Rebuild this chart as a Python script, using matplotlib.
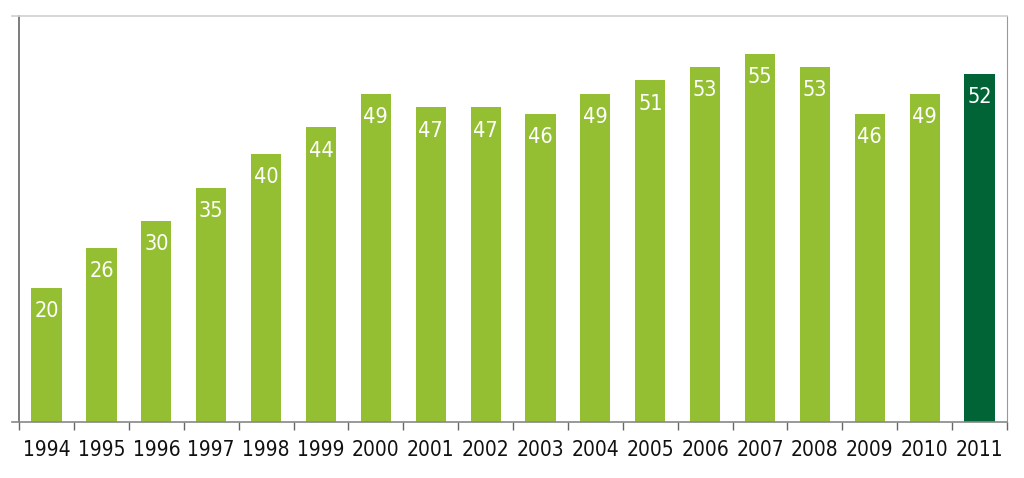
import matplotlib

matplotlib.use("Agg")
import matplotlib.pyplot as plt
import numpy as np

years = ["1994", "1995", "1996", "1997", "1998", "1999", "2000", "2001", "2002",
         "2003", "2004", "2005", "2006", "2007", "2008", "2009", "2010", "2011"]
values = [20, 26, 30, 35, 40, 44, 49, 47, 47, 46, 49, 51, 53, 55, 53, 46, 49, 52]

LIGHT = "#95bf33"
DARK = "#006437"
FONT = ["DejaVu Sans"]

fig = plt.figure(figsize=(10.24, 4.78), dpi=100)
ax = fig.add_axes([12 / 1024, 56 / 478, (1007 - 12) / 1024, (422 - 16) / 478])

x = np.arange(len(years))
colors = [LIGHT] * (len(years) - 1) + [DARK]
ax.bar(x, values, width=0.55, color=colors, zorder=2)

# white value labels just inside the top of each bar
for xi, v in zip(x, values):
    ax.text(xi, v - 3.5, str(v), ha="center", va="center", color="white",
            fontsize=15.5, family=FONT, stretch="condensed", zorder=3)

ax.set_xlim(-0.63, len(years) - 0.5)
ax.set_ylim(0, 60.6)

ax.spines["left"].set_position(("data", -0.5))
ax.spines["left"].set_color("#666666")
ax.spines["left"].set_linewidth(1.2)
ax.spines["top"].set_color("#d0d0d0")
ax.spines["top"].set_linewidth(1.2)
ax.spines["right"].set_color("#999999")
ax.spines["bottom"].set_color("#888888")
ax.spines["bottom"].set_linewidth(1.2)

ax.set_yticks([])
ax.set_xticks(x)
ax.set_xticklabels(years, fontsize=15, family=FONT, stretch="condensed", color="#111111")
ax.tick_params(axis="x", which="major", length=0, pad=13)
ax.set_xticks(np.arange(-0.5, len(years)), minor=True)
ax.tick_params(axis="x", which="minor", length=6, color="#666666", width=1)

fig.savefig("out.png", dpi=100)
